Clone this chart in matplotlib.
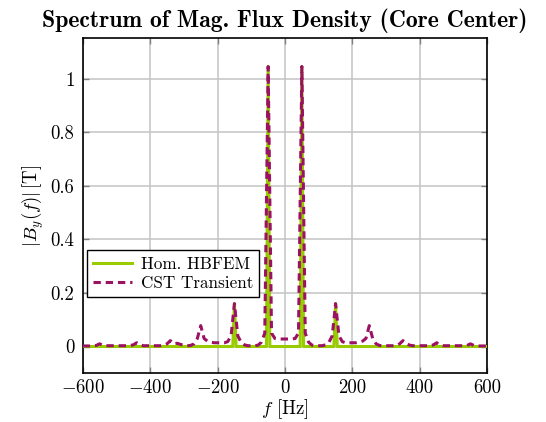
import matplotlib
matplotlib.use('Agg')
import matplotlib.pyplot as plt
import numpy as np

# Hom. HBFEM (harmonic balance) -- only 50 Hz and 150 Hz components
hb_freq = [-600, -155, -150, -145, -55, -50, -45, 45, 50, 55, 145, 150, 155, 600]
hb_amp = [0, 0, 0.16, 0, 0, 1.045, 0, 0, 1.045, 0, 0, 0.16, 0, 0]

# CST transient, FFT with 10 Hz resolution
cst_freq = list(range(-600, 601, 10))
cst_amp = [
    0.002, 0.002, 0.002, 0.003, 0.004, 0.010, 0.004, 0.003, 0.003, 0.003,   # -600 .. -510
    0.003, 0.003, 0.003, 0.003, 0.004, 0.006, 0.014, 0.006, 0.003, 0.003,   # -500 .. -410
    0.003, 0.003, 0.003, 0.003, 0.005, 0.010, 0.022, 0.010, 0.012, 0.008,   # -400 .. -310
    0.004, 0.003, 0.004, 0.010, 0.030, 0.078, 0.030, 0.020, 0.016, 0.014,   # -300 .. -210
    0.014, 0.014, 0.014, 0.018, 0.040, 0.160, 0.040, 0.015, 0.006, 0.003,   # -200 .. -110
    0.003, 0.003, 0.005, 0.016, 0.050, 1.045, 0.050, 0.030, 0.028, 0.028,   # -100 .. -10
    0.028,                                                                   # 0
    0.028, 0.028, 0.030, 0.050, 1.045, 0.050, 0.016, 0.005, 0.003, 0.003,   # 10 .. 100
    0.003, 0.006, 0.015, 0.040, 0.160, 0.040, 0.018, 0.014, 0.014, 0.014,   # 110 .. 200
    0.014, 0.016, 0.020, 0.030, 0.078, 0.030, 0.010, 0.004, 0.003, 0.003,   # 210 .. 300
    0.003, 0.003, 0.004, 0.010, 0.022, 0.010, 0.005, 0.003, 0.003, 0.003,   # 310 .. 400
    0.003, 0.003, 0.003, 0.006, 0.014, 0.006, 0.003, 0.003, 0.003, 0.003,   # 410 .. 500
    0.003, 0.003, 0.003, 0.004, 0.010, 0.004, 0.002, 0.002, 0.002, 0.002,   # 510 .. 600
]

x_ticks = [-600, -400, -200, 0, 200, 400, 600]
y_ticks = [0, 0.2, 0.4, 0.6, 0.8, 1]
y_ticklabels = ['0', '0.2', '0.4', '0.6', '0.8', '1']

plt.rcParams['font.family'] = 'serif'
plt.rcParams['font.serif'] = ['cmr10', 'DejaVu Serif']
plt.rcParams['mathtext.fontset'] = 'cm'
plt.rcParams['axes.formatter.use_mathtext'] = True
plt.rcParams['axes.unicode_minus'] = True

fig, ax = plt.subplots(figsize=(5.46, 4.22), dpi=100)
fig.subplots_adjust(left=0.1515, right=0.8925, bottom=0.1154, top=0.909)

ax.plot(hb_freq, hb_amp, color='#99cc00', lw=2.2, label='Hom. HBFEM', zorder=3)
ax.plot(cst_freq, cst_amp, color='#9b1265', lw=2.2, ls=(0, (2.4, 1.6)),
        label='CST Transient', zorder=4)

ax.set_xlim(-600, 600)
ax.set_ylim(-0.1, 1.15)
ax.set_xticks(x_ticks)
ax.set_xticklabels([r'$-600$', r'$-400$', r'$-200$', '0', '200', '400', '600'])
ax.set_yticks(y_ticks)
ax.set_yticklabels(y_ticklabels)
ax.tick_params(direction='in', length=4, width=1.0, color='#808080',
               top=True, right=True, labelsize=13.5, pad=6)
ax.tick_params(axis='x', pad=4)
ax.grid(True, color='#c4c4c4', lw=1.1)
ax.set_axisbelow(True)
for s in ax.spines.values():
    s.set_linewidth(1.2)
    s.set_color('black')

ax.set_xlabel(r'$f$ [Hz]', fontsize=13.5, labelpad=0)
ax.set_ylabel(r'$|B_y(f)|\,[\mathrm{T}]$', fontsize=13.5, labelpad=3)
ax.set_title('Spectrum of Mag. Flux Density (Core Center)', fontsize=17,
             fontfamily='cmb10', pad=8)

leg = ax.legend(loc='lower left', bbox_to_anchor=(0.01, 0.227), fontsize=12.3,
                fancybox=False, framealpha=1, edgecolor='black', borderaxespad=0,
                handlelength=2.3, handletextpad=0.5, borderpad=0.35,
                labelspacing=0.25)
leg.get_frame().set_linewidth(1.0)

plt.savefig('out.png', dpi=100)
